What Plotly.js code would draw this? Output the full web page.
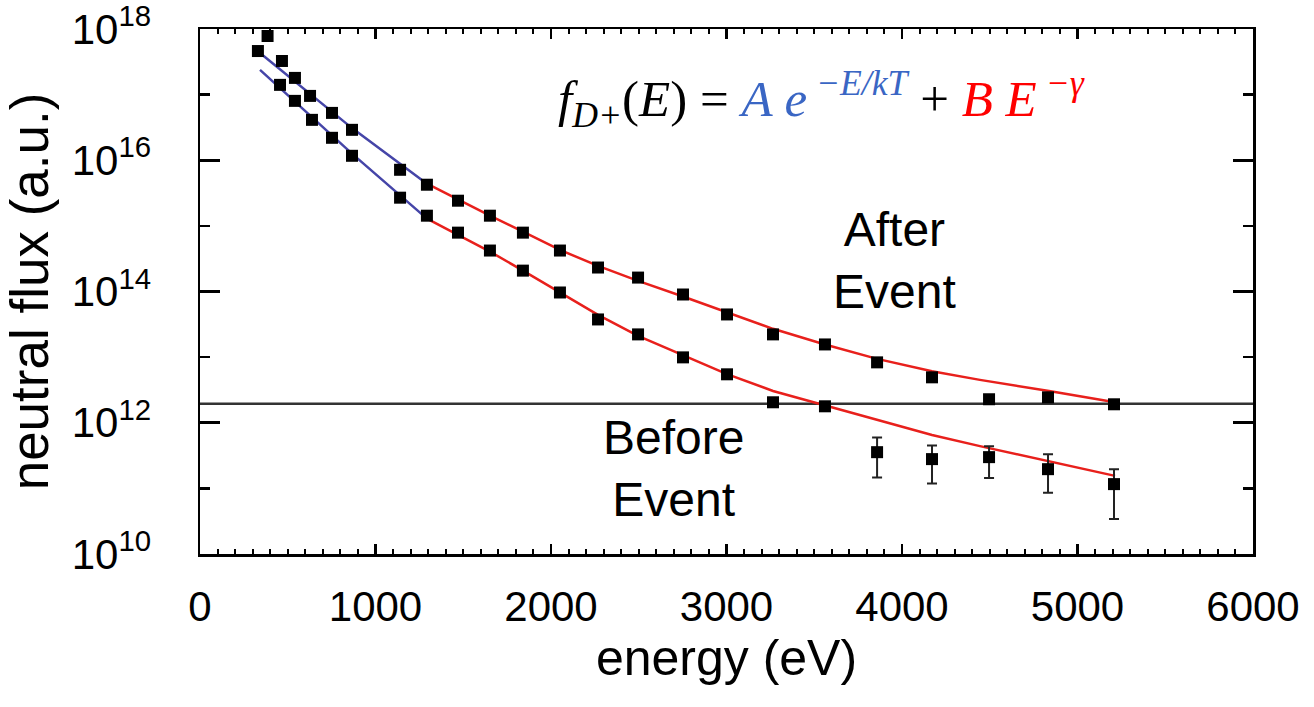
<!DOCTYPE html>
<html>
<head>
<meta charset="utf-8">
<script src="https://cdn.plot.ly/plotly-3.0.1.min.js"></script>
<style>html,body{margin:0;padding:0;background:#fff;}#chart{width:1314px;height:707px;}</style>
</head>
<body>
<div id="chart"></div>
<script>
// ---- data ----
const afterEnergy = [385, 467, 541, 627, 752, 866, 1140, 1293, 1470, 1652, 1840, 2051, 2268, 2496, 2752, 3003, 3265, 3561, 3858, 4171, 4496, 4832, 5208];
const afterFlux = [7.83e17, 3.26e17, 1.80e17, 9.57e16, 5.27e16, 2.91e16, 7.16e15, 4.24e15, 2.42e15, 1.43e15, 7.89e14, 4.21e14, 2.32e14, 1.63e14, 9.00e13, 4.47e13, 2.22e13, 1.56e13, 8.32e12, 4.92e12, 2.28e12, 2.44e12, 1.91e12];

const beforeEnergy = [330, 456, 541, 638, 752, 866, 1140, 1293, 1470, 1652, 1840, 2051, 2268, 2496, 2752, 3003, 3265, 3561, 3858, 4171, 4496, 4832, 5208];
const beforeFlux = [4.62e17, 1.41e17, 8.04e16, 4.13e16, 2.20e16, 1.17e16, 2.69e15, 1.43e15, 7.89e14, 4.21e14, 2.08e14, 9.66e13, 3.75e13, 2.22e13, 9.91e12, 5.47e12, 2.05e12, 1.78e12, 3.56e11, 2.79e11, 2.99e11, 1.96e11, 1.16e11];
const beforeErrPlus = [0, 0, 0, 0, 0, 0, 0, 0, 0, 0, 0, 0, 0, 0, 0, 0, 0, 0, 2.4e11, 1.7e11, 1.4e11, 1.35e11, 0.8e11];
const beforeErrMinus = [0, 0, 0, 0, 0, 0, 0, 0, 0, 0, 0, 0, 0, 0, 0, 0, 0, 0, 2.1e11, 1.6e11, 1.55e11, 1.1e11, 0.82e11];

// fitted curves
const expFitEnergy = [342, 866, 1293];
const expFitAfter = [4.32e17, 3.09e16, 4.40e15];
const expFitBefore = [2.38e17, 1.26e16, 1.29e15];

const powFitEnergy = [1293, 1470, 1652, 1840, 2051, 2268, 2496, 2752, 3003, 3265, 3561, 3858, 4171, 4444, 4838, 5214];
const powFitAfter = [4.40e15, 2.51e15, 1.43e15, 8.18e14, 4.30e14, 2.45e14, 1.45e14, 8.40e13, 4.80e13, 2.70e13, 1.56e13, 9.40e12, 6.10e12, 4.50e12, 3.05e12, 2.05e12];
const powFitBefore = [1.29e15, 7.40e14, 4.06e14, 2.08e14, 9.80e13, 4.40e13, 2.10e13, 1.06e13, 5.50e12, 3.05e12, 1.85e12, 1.10e12, 6.50e11, 4.40e11, 2.55e11, 1.55e11];

const levelEnergy = [0, 6000];
const levelFlux = [1.95e12, 1.95e12];

const yTickVals = [1e10, 1e12, 1e14, 1e16, 1e18];
const yTickText = ['10<sup>10</sup>', '10<sup>12</sup>', '10<sup>14</sup>', '10<sup>16</sup>', '10<sup>18</sup>'];
const yMinorVals = [1e11, 1e13, 1e15, 1e17];

const FONT = 'Liberation Sans, Arial, Helvetica, sans-serif';
const BLUE = '#4545a8';
const RED = '#e8201c';

const traces = [
  {x: levelEnergy, y: levelFlux, mode: 'lines', line: {color: '#333', width: 2.5}, hoverinfo: 'skip'},
  {x: expFitEnergy, y: expFitAfter, mode: 'lines', line: {color: BLUE, width: 2.5}},
  {x: expFitEnergy, y: expFitBefore, mode: 'lines', line: {color: BLUE, width: 2.5}},
  {x: powFitEnergy, y: powFitAfter, mode: 'lines', line: {color: RED, width: 2.5}},
  {x: powFitEnergy, y: powFitBefore, mode: 'lines', line: {color: RED, width: 2.5}},
  {x: afterEnergy, y: afterFlux, mode: 'markers', marker: {symbol: 'square', size: 12, color: '#000'}},
  {x: beforeEnergy, y: beforeFlux, mode: 'markers', marker: {symbol: 'square', size: 12, color: '#000'},
   error_y: {type: 'data', symmetric: false, array: beforeErrPlus, arrayminus: beforeErrMinus, color: '#222', thickness: 2, width: 5}}
];

const axisCommon = {
  showline: true, linecolor: '#000', linewidth: 2.5, mirror: 'allticks',
  ticks: 'inside', tickcolor: '#000', tickwidth: 2.5,
  showgrid: false, zeroline: false,
  ticklabeloverflow: 'allow',
  tickfont: {family: FONT, size: 42, color: '#000'}
};

const layout = {
  width: 1314, height: 707,
  margin: {l: 200, r: 61, t: 29, b: 153},
  paper_bgcolor: '#fff', plot_bgcolor: '#fff',
  showlegend: false,
  xaxis: Object.assign({}, axisCommon, {
    range: [0, 6000], dtick: 1000, tick0: 0, ticklen: 10,
    minor: {dtick: 100, ticklen: 5, tickwidth: 2, ticks: 'inside', tickcolor: '#000'},
    ticklabelstandoff: 14,
    title: {text: 'energy (eV)', font: {family: FONT, size: 50, color: '#000'}, standoff: 2}
  }),
  yaxis: Object.assign({}, axisCommon, {
    type: 'log', range: [9.9995, 18.0005],
    tickmode: 'array', tickvals: yTickVals, ticktext: yTickText, ticklen: 20,
    minor: {tickmode: 'array', tickvals: yMinorVals, ticklen: 10, tickwidth: 2.5, ticks: 'inside', tickcolor: '#000'},
    ticklabelstandoff: 38,
    title: {text: 'neutral flux (a.u.)', font: {family: FONT, size: 53, color: '#000'}, standoff: 6}
  }),
  annotations: [
    {xref: 'x', yref: 'paper', x: 3960, y: 0.672, text: 'After<br>Event', showarrow: false,
     font: {family: FONT, size: 48, color: '#000'}, align: 'center'},
    {xref: 'x', yref: 'paper', x: 2700, y: 0.05, text: 'Before<br>Event', showarrow: false,
     font: {family: FONT, size: 48, color: '#000'}, align: 'center'},
    {xref: 'paper', yref: 'paper', x: 0.338, y: 0.866, xanchor: 'left', yanchor: 'middle', showarrow: false,
     font: {family: 'Liberation Serif, Times New Roman, serif', size: 51, color: '#000'},
     text: '<i>f</i><sub><i>D+</i></sub>(<i>E</i>) = <span style="color:#3a66c4"><i>A e</i><sup> <i>\u2212E/kT</i></sup></span> + <span style="color:#ff0000"><i>B E</i><sup> <i>\u2212\u03b3</i></sup></span>'}
  ]
};

Plotly.newPlot('chart', traces, layout, {displayModeBar: false, staticPlot: true});
</script>
</body>
</html>
